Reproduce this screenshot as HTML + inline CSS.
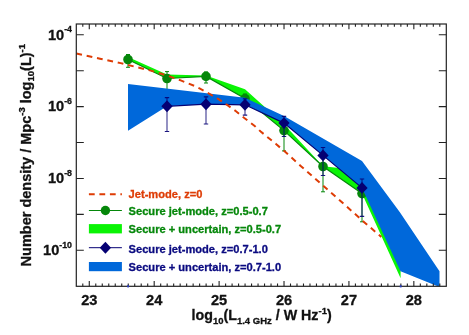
<!DOCTYPE html><html><head><meta charset="utf-8"><style>html,body{margin:0;padding:0;background:#fff}svg{display:block;will-change:transform;opacity:0.999}text{font-family:"Liberation Sans",sans-serif;font-weight:bold;stroke-width:0.3px;paint-order:stroke}</style></head><body>
<svg width="469" height="335" viewBox="0 0 469 335">
<rect width="469" height="335" fill="#fff"/>
<defs><clipPath id="c"><rect x="76.3" y="24.0" width="370.0" height="262.3"/></clipPath></defs>
<g clip-path="url(#c)">
<polygon fill="#0af405" points="128,57 167,74.4 206,75.5 245,89.3 284,124.3 323,166.3 362,170.5 400.6,265 400.6,278.3 362,193.6 323,166.5 284,130.6 245,98.6 206,76.4 167,78.5 128,59.5"/>
<polyline fill="none" stroke="#05870a" stroke-width="1.2" points="128,59.5 167,78.5 206,76.4 245,98.6 284,130.6 323,166.5 362,193.6"/>
<path d="M128,54.5V67.3M126,54.5H130M126,67.3H130" stroke="#05870a" stroke-width="1" fill="none"/>
<path d="M167,71.6V90M165,71.6H169M165,90H169" stroke="#05870a" stroke-width="1" fill="none"/>
<path d="M206,72V83M204,72H208M204,83H208" stroke="#05870a" stroke-width="1" fill="none"/>
<path d="M245,94V104M243,94H247M243,104H247" stroke="#05870a" stroke-width="1" fill="none"/>
<path d="M284,124V150.9M282,124H286M282,150.9H286" stroke="#05870a" stroke-width="1" fill="none"/>
<path d="M323,158V191.8M321,158H325M321,191.8H325" stroke="#05870a" stroke-width="1" fill="none"/>
<path d="M362,186V221.8M360,186H364M360,221.8H364" stroke="#05870a" stroke-width="1" fill="none"/>
<circle cx="128" cy="59.5" r="4.8" fill="#05870a"/>
<circle cx="167" cy="78.5" r="4.8" fill="#05870a"/>
<circle cx="206" cy="76.4" r="4.8" fill="#05870a"/>
<circle cx="245" cy="98.6" r="4.8" fill="#05870a"/>
<circle cx="284" cy="130.6" r="4.8" fill="#05870a"/>
<circle cx="323" cy="166.5" r="4.8" fill="#05870a"/>
<circle cx="362" cy="193.6" r="4.8" fill="#05870a"/>
<polygon fill="#0068da" points="128,83.9 245,97.7 284,116 362,161 399.7,212 439.5,271.2 439.5,287 400.5,271.2 362,187.9 323,155.4 284,123.1 245,104.8 206,104.2 167,106.3 128,130.8"/>
<polyline fill="none" stroke="#050073" stroke-width="1.2" points="167,106.3 206,104.2 245,104.8 284,123.1 323,155.4 362,187.9"/>
<path d="M167,97.7V131.5" stroke="#050073" stroke-width="1.2" fill="none" opacity="0.72"/><path d="M164.8,97.7H169.2M164.8,131.5H169.2" stroke="#050073" stroke-width="1.2" fill="none" opacity="0.9"/>
<path d="M206,96.8V124" stroke="#050073" stroke-width="1.2" fill="none" opacity="0.72"/><path d="M203.8,96.8H208.2M203.8,124H208.2" stroke="#050073" stroke-width="1.2" fill="none" opacity="0.9"/>
<path d="M245,98.8V115.1" stroke="#050073" stroke-width="1.2" fill="none" opacity="0.72"/><path d="M242.8,98.8H247.2M242.8,115.1H247.2" stroke="#050073" stroke-width="1.2" fill="none" opacity="0.9"/>
<path d="M284,116.3V136.5" stroke="#050073" stroke-width="1.2" fill="none" opacity="0.72"/><path d="M281.8,116.3H286.2M281.8,136.5H286.2" stroke="#050073" stroke-width="1.2" fill="none" opacity="0.9"/>
<path d="M323,147.5V175.5" stroke="#050073" stroke-width="1.2" fill="none" opacity="0.72"/><path d="M320.8,147.5H325.2M320.8,175.5H325.2" stroke="#050073" stroke-width="1.2" fill="none" opacity="0.9"/>
<path d="M362,179V216.4" stroke="#050073" stroke-width="1.2" fill="none" opacity="0.72"/><path d="M359.8,179H364.2M359.8,216.4H364.2" stroke="#050073" stroke-width="1.2" fill="none" opacity="0.9"/>
<path d="M161.35,106.3L167,100.35L172.65,106.3L167,112.25Z" fill="#050073"/>
<path d="M200.35,104.2L206,98.25L211.65,104.2L206,110.15Z" fill="#050073"/>
<path d="M239.35,104.8L245,98.85L250.65,104.8L245,110.75Z" fill="#050073"/>
<path d="M278.35,123.1L284,117.14999999999999L289.65,123.1L284,129.04999999999998Z" fill="#050073"/>
<path d="M317.35,155.4L323,149.45000000000002L328.65,155.4L323,161.35Z" fill="#050073"/>
<path d="M356.35,187.9L362,181.95000000000002L367.65,187.9L362,193.85Z" fill="#050073"/>
<polyline fill="none" stroke="#de3c05" stroke-width="2" stroke-dasharray="5.8,4.8" points="76.3,53.4 100,58.7 120.7,63.1 135.7,66.9 150.9,70.6 170.3,76.6 180.7,80.4 194.2,85.8 200,88.6 209.9,94.2 218.9,99.4 227.8,105.4 236,111.3 244.3,118 254.7,126 260.4,131.3 275.7,143.8 284.3,151.1 300.7,165.9 312.2,176 330,191.7 364.5,222.4 381.3,236.9"/>
</g>
<rect x="76.3" y="24.0" width="370.0" height="262.3" fill="none" stroke="#222" stroke-width="1.2"/>
<path d="M82.79,24.0v2.8M82.79,286.3v-2.8M89.28,24.0v5.2M89.28,286.3v-5.2M95.77,24.0v2.8M95.77,286.3v-2.8M102.26,24.0v2.8M102.26,286.3v-2.8M108.76,24.0v2.8M108.76,286.3v-2.8M115.25,24.0v2.8M115.25,286.3v-2.8M121.74,24.0v2.8M121.74,286.3v-2.8M128.23,24.0v2.8M128.23,286.3v-2.8M134.72,24.0v2.8M134.72,286.3v-2.8M141.21,24.0v2.8M141.21,286.3v-2.8M147.70,24.0v2.8M147.70,286.3v-2.8M154.19,24.0v5.2M154.19,286.3v-5.2M160.69,24.0v2.8M160.69,286.3v-2.8M167.18,24.0v2.8M167.18,286.3v-2.8M173.67,24.0v2.8M173.67,286.3v-2.8M180.16,24.0v2.8M180.16,286.3v-2.8M186.65,24.0v2.8M186.65,286.3v-2.8M193.14,24.0v2.8M193.14,286.3v-2.8M199.63,24.0v2.8M199.63,286.3v-2.8M206.12,24.0v2.8M206.12,286.3v-2.8M212.62,24.0v2.8M212.62,286.3v-2.8M219.11,24.0v5.2M219.11,286.3v-5.2M225.60,24.0v2.8M225.60,286.3v-2.8M232.09,24.0v2.8M232.09,286.3v-2.8M238.58,24.0v2.8M238.58,286.3v-2.8M245.07,24.0v2.8M245.07,286.3v-2.8M251.56,24.0v2.8M251.56,286.3v-2.8M258.05,24.0v2.8M258.05,286.3v-2.8M264.54,24.0v2.8M264.54,286.3v-2.8M271.04,24.0v2.8M271.04,286.3v-2.8M277.53,24.0v2.8M277.53,286.3v-2.8M284.02,24.0v5.2M284.02,286.3v-5.2M290.51,24.0v2.8M290.51,286.3v-2.8M297.00,24.0v2.8M297.00,286.3v-2.8M303.49,24.0v2.8M303.49,286.3v-2.8M309.98,24.0v2.8M309.98,286.3v-2.8M316.47,24.0v2.8M316.47,286.3v-2.8M322.97,24.0v2.8M322.97,286.3v-2.8M329.46,24.0v2.8M329.46,286.3v-2.8M335.95,24.0v2.8M335.95,286.3v-2.8M342.44,24.0v2.8M342.44,286.3v-2.8M348.93,24.0v5.2M348.93,286.3v-5.2M355.42,24.0v2.8M355.42,286.3v-2.8M361.91,24.0v2.8M361.91,286.3v-2.8M368.40,24.0v2.8M368.40,286.3v-2.8M374.90,24.0v2.8M374.90,286.3v-2.8M381.39,24.0v2.8M381.39,286.3v-2.8M387.88,24.0v2.8M387.88,286.3v-2.8M394.37,24.0v2.8M394.37,286.3v-2.8M400.86,24.0v2.8M400.86,286.3v-2.8M407.35,24.0v2.8M407.35,286.3v-2.8M413.84,24.0v5.2M413.84,286.3v-5.2M420.33,24.0v2.8M420.33,286.3v-2.8M426.82,24.0v2.8M426.82,286.3v-2.8M433.32,24.0v2.8M433.32,286.3v-2.8M439.81,24.0v2.8M439.81,286.3v-2.8M76.3,250.27h7.5M446.3,250.27h-7.5M76.3,214.36h7.5M446.3,214.36h-7.5M76.3,178.45h7.5M446.3,178.45h-7.5M76.3,142.54h7.5M446.3,142.54h-7.5M76.3,106.63h7.5M446.3,106.63h-7.5M76.3,70.72h7.5M446.3,70.72h-7.5M76.3,34.81h7.5M446.3,34.81h-7.5" stroke="#222" stroke-width="1.1" fill="none"/>
<rect x="127.2" y="285.2" width="1.8" height="2.2" fill="#2a3cc0"/><rect x="399.8" y="285.2" width="1.8" height="2.2" fill="#2a3cc0"/>
<text x="89.28239999999995" y="305" font-size="14.6" text-anchor="middle" fill="#111" stroke="#111">23</text>
<text x="154.19439999999997" y="305" font-size="14.6" text-anchor="middle" fill="#111" stroke="#111">24</text>
<text x="219.10639999999995" y="305" font-size="14.6" text-anchor="middle" fill="#111" stroke="#111">25</text>
<text x="284.0184" y="305" font-size="14.6" text-anchor="middle" fill="#111" stroke="#111">26</text>
<text x="348.93039999999996" y="305" font-size="14.6" text-anchor="middle" fill="#111" stroke="#111">27</text>
<text x="413.8424" y="305" font-size="14.6" text-anchor="middle" fill="#111" stroke="#111">28</text>
<text x="72" y="39.6" font-size="14.6" text-anchor="end" fill="#111" stroke="#111">10<tspan font-size="8.8" dy="-7.3">-4</tspan></text>
<text x="72" y="111.4" font-size="14.6" text-anchor="end" fill="#111" stroke="#111">10<tspan font-size="8.8" dy="-7.3">-6</tspan></text>
<text x="72" y="183.2" font-size="14.6" text-anchor="end" fill="#111" stroke="#111">10<tspan font-size="8.8" dy="-7.3">-8</tspan></text>
<text x="72" y="255.1" font-size="14.6" text-anchor="end" fill="#111" stroke="#111">10<tspan font-size="8.8" dy="-7.3">-10</tspan></text>
<text x="261.6" y="320" font-size="14.25" text-anchor="middle" fill="#111" stroke="#111">log<tspan font-size="9.5" dy="3.5">10</tspan><tspan dy="-3.5">(L</tspan><tspan font-size="9.5" dy="3.5">1.4 GHz</tspan><tspan dy="-3.5"> / W Hz</tspan><tspan font-size="9.5" dy="-6">-1</tspan><tspan dy="6">)</tspan></text>
<text transform="translate(31.2,155.2) rotate(-90)" font-size="14.5" text-anchor="middle" fill="#111" stroke="#111">Number density / Mpc<tspan font-size="9.5" dy="-6">-3</tspan><tspan dy="6"> log</tspan><tspan font-size="9.5" dy="3">10</tspan><tspan dy="-3">(L)</tspan><tspan font-size="9.5" dy="-6">-1</tspan></text>
<path d="M88.9,194.2H121.9" stroke="#de3c05" stroke-width="2" stroke-dasharray="5.8,4.7"/>
<path d="M88.9,210.5H121.9" stroke="#05870a" stroke-width="1"/><circle cx="105.4" cy="210.5" r="4.7" fill="#05870a"/>
<rect x="88.9" y="224.1" width="33.0" height="9.3" fill="#0af405"/>
<path d="M88.9,247.7H121.9" stroke="#050073" stroke-width="1"/><path d="M99.75,247.7L105.4,241.75L111.05000000000001,247.7L105.4,253.64999999999998Z" fill="#050073"/>
<rect x="88.9" y="262" width="33.0" height="9.2" fill="#0068da"/>
<text x="128.6" y="197.5" font-size="11.12" fill="#de3c05" stroke="#de3c05">Jet-mode, z=0</text>
<text x="128.6" y="214.8" font-size="11.12" fill="#05870a" stroke="#05870a">Secure jet-mode, z=0.5-0.7</text>
<text x="128.6" y="233.4" font-size="11.12" fill="#05870a" stroke="#05870a">Secure + uncertain, z=0.5-0.7</text>
<text x="128.6" y="252.6" font-size="11.12" fill="#0a0a80" stroke="#0a0a80">Secure jet-mode, z=0.7-1.0</text>
<text x="128.6" y="271.4" font-size="11.12" fill="#0a0a80" stroke="#0a0a80">Secure + uncertain, z=0.7-1.0</text>
</svg></body></html>
